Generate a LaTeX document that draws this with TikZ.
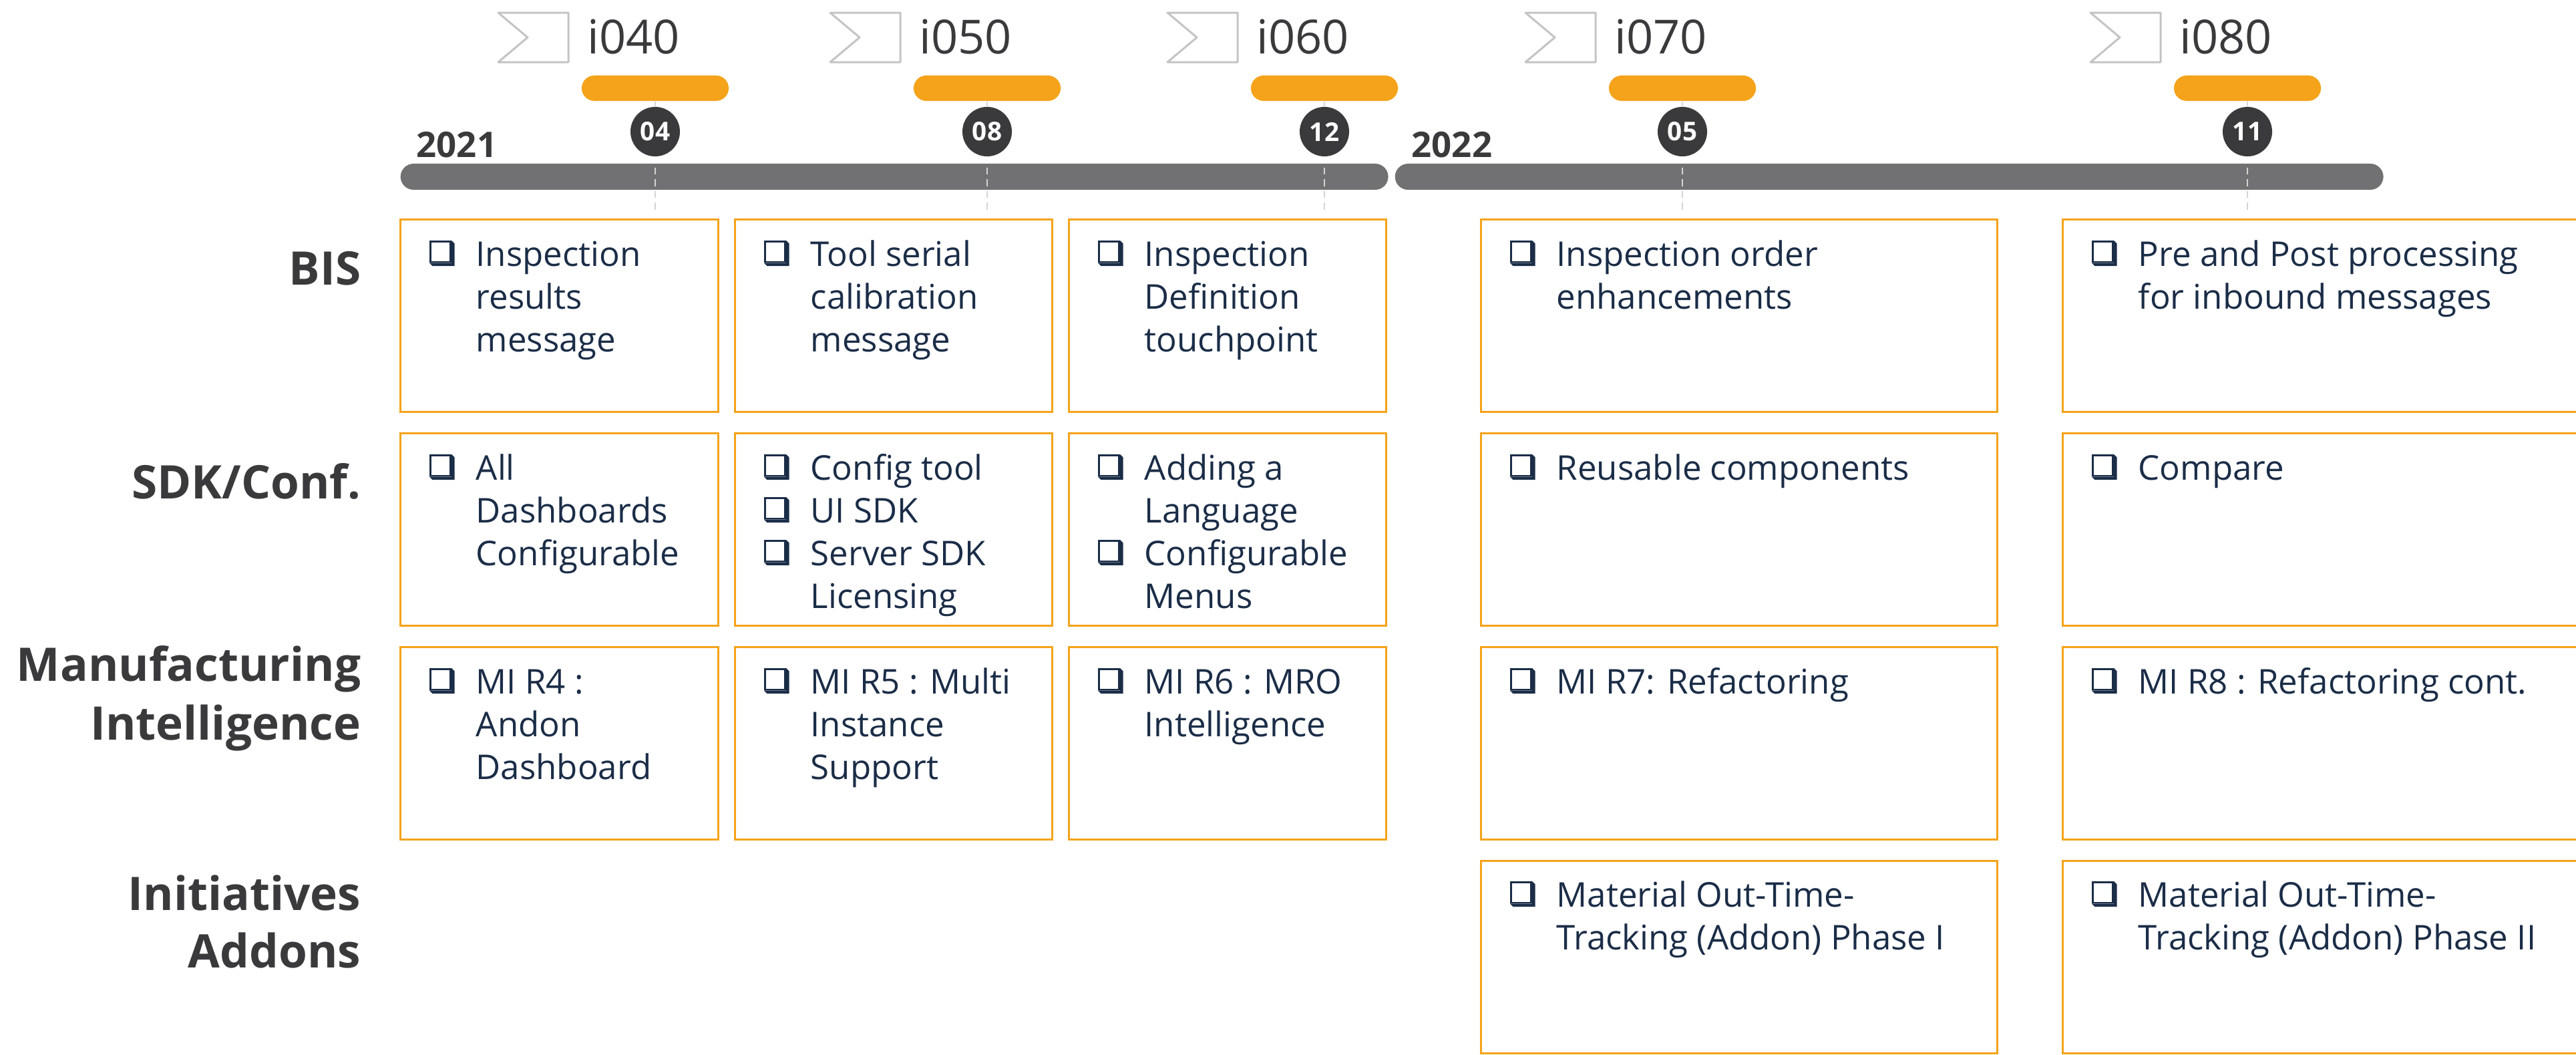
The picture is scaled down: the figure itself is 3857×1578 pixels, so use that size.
\documentclass[tikz,border=0pt]{standalone}
\usepackage{fontspec}
\setmainfont{Open Sans}
\definecolor{orng}{HTML}{F5A31A}
\definecolor{bgray}{HTML}{717173}
\definecolor{dgray}{HTML}{3A3A3C}
\definecolor{navy}{HTML}{1B2D47}
\definecolor{fgray}{HTML}{C4C4C4}
\definecolor{lgray}{HTML}{D4D4D4}
\newcommand{\cbx}{\makebox[0.70cm][l]{\tikz[baseline=0pt,x=1pt,y=1pt]{%
  \fill[navy] (0,1.3) -- (1.3,0) -- (10.8,0) -- (10.8,9.5) -- (9.5,10.8) -- (9.5,1.3) -- cycle;
  \draw[navy,line width=0.8pt] (0.4,1.7) rectangle (9.1,10.4);}}}
\newcommand{\lst}[1]{\begin{tabular}[t]{@{}l@{}l@{}}#1\end{tabular}}
\tikzset{
  cell/.style={draw=orng, line width=0.85pt, rectangle, inner sep=0pt, anchor=north west, minimum height=2.88cm},
  txt/.style={anchor=base west, inner sep=0pt, text=navy, font=\fontsize{14.5}{18.2}\selectfont},
  rowlab/.style={anchor=base east, inner sep=0pt, text=dgray, font=\fontsize{19.7}{24}\selectfont\bfseries},
  pill/.style={fill=orng, rounded corners=0.19cm, minimum width=2.2cm, minimum height=0.38cm, inner sep=0pt},
  num/.style={circle, fill=dgray, minimum size=0.74cm, inner sep=0pt, text=white, font=\fontsize{11}{13}\selectfont\bfseries},
  ilab/.style={anchor=base west, inner sep=0pt, text=dgray, font=\fontsize{20}{24}\selectfont},
  year/.style={anchor=base west, inner sep=0pt, text=dgray, font=\fontsize{15}{18}\selectfont\bfseries},
  dline/.style={draw=lgray, line width=0.45pt, dash pattern=on 3pt off 2pt},
  flagline/.style={draw=fgray, line width=0.85pt, line join=round},
  barst/.style={fill=bgray, rounded corners=0.195cm, minimum height=0.39cm, inner sep=0pt, anchor=west}
}
\begin{document}
\begin{tikzpicture}[x=0.01cm,y=-0.01cm]
\useasboundingbox (0,0) rectangle (3857,1578);
\clip (0,0) rectangle (3857,1578);
\fill[white] (0,0) rectangle (3857,1578);

% timeline bars
\node[barst, minimum width=14.78cm] (bar1) at (599,264.5) {};
\node[barst, minimum width=14.79cm] (bar2) at (2088,264.5) {};
\node[year] (y2021) at (623,235) {2021};
\node[year] (y2022) at (2113,235) {2022};

% milestones
\foreach \cx/\n/\lab [count=\k] in {981/04/i040, 1478/08/i050, 1983/12/i060, 2519/05/i070, 3365/11/i080} {
  \draw[flagline] ({\cx-235},19) -- ({\cx-130},19) -- ({\cx-130},93) -- ({\cx-235},93) -- ({\cx-191},56) -- cycle;
  \node[ilab] (l\k) at ({\cx-102},80) {\lab};
  \node[pill] (p\k) at (\cx,132) {};
  \node[num] (c\k) at (\cx,197) {\n};
  \draw[dline] (p\k.south) -- (c\k.north);
  \draw[dline] ([yshift=-0.16cm]c\k.south) -- ([yshift=-0.84cm]c\k.south);
}

% row labels
\node[rowlab] (rBIS) at (541,426) {BIS};
\node[rowlab] (rSDK) at (541,746) {SDK/Conf.};
\node[rowlab] (rMI1) at (541,1019) {Manufacturing};
\node[rowlab] (rMI2) at (541,1107) {Intelligence};
\node[rowlab] (rIA1) at (541,1362) {Initiatives};
\node[rowlab] (rIA2) at (541,1448) {Addons};

% boxes
\node[cell, minimum width=4.76cm] (b11) at (598,327) {};
\node[cell, minimum width=4.75cm] (b12) at (1099,327) {};
\node[cell, minimum width=4.75cm] (b13) at (1599,327) {};
\node[cell, minimum width=7.73cm] (b14) at (2216,327) {};
\node[cell, minimum width=9cm] (b15) at (3087,327) {};

\node[cell, minimum width=4.76cm] (b21) at (598,647) {};
\node[cell, minimum width=4.75cm] (b22) at (1099,647) {};
\node[cell, minimum width=4.75cm] (b23) at (1599,647) {};
\node[cell, minimum width=7.73cm] (b24) at (2216,647) {};
\node[cell, minimum width=9cm] (b25) at (3087,647) {};

\node[cell, minimum width=4.76cm] (b31) at (598,967) {};
\node[cell, minimum width=4.75cm] (b32) at (1099,967) {};
\node[cell, minimum width=4.75cm] (b33) at (1599,967) {};
\node[cell, minimum width=7.73cm] (b34) at (2216,967) {};
\node[cell, minimum width=9cm] (b35) at (3087,967) {};

\node[cell, minimum width=7.73cm] (b44) at (2216,1287) {};
\node[cell, minimum width=9cm] (b45) at (3087,1287) {};

% box texts
\node[txt] (t11) at (642,398) {\lst{\cbx & Inspection\\ & results\\ & message}};
\node[txt] (t12) at (1143,398) {\lst{\cbx & Tool serial\\ & calibration\\ & message}};
\node[txt] (t13) at (1643,398) {\lst{\cbx & Inspection\\ & Definition\\ & touchpoint}};
\node[txt] (t14) at (2260,398) {\lst{\cbx & Inspection order\\ & enhancements}};
\node[txt] (t15) at (3131,398) {\lst{\cbx & Pre and Post processing\\ & for inbound messages}};

\node[txt] (t21) at (642,718) {\lst{\cbx & All\\ & Dashboards\\ & Configurable}};
\node[txt] (t22) at (1143,718) {\lst{\cbx & Config tool\\ \cbx & UI SDK\\ \cbx & Server SDK\\ & Licensing}};
\node[txt] (t23) at (1643,718) {\lst{\cbx & Adding a\\ & Language\\ \cbx & Configurable\\ & Menus}};
\node[txt] (t24) at (2260,718) {\lst{\cbx & Reusable components}};
\node[txt] (t25) at (3131,718) {\lst{\cbx & Compare}};

\node[txt] (t31) at (642,1038) {\lst{\cbx & MI R4 :\\ & Andon\\ & Dashboard}};
\node[txt] (t32) at (1143,1038) {\lst{\cbx & MI R5 : Multi\\ & Instance\\ & Support}};
\node[txt] (t33) at (1643,1038) {\lst{\cbx & MI R6 : MRO\\ & Intelligence}};
\node[txt] (t34) at (2260,1038) {\lst{\cbx & MI R7: Refactoring}};
\node[txt] (t35) at (3131,1038) {\lst{\cbx & MI R8 : Refactoring cont.}};

\node[txt] (t44) at (2260,1357) {\lst{\cbx & Material Out-Time-\\ & Tracking (Addon) Phase I}};
\node[txt] (t45) at (3131,1357) {\lst{\cbx & Material Out-Time-\\ & Tracking (Addon) Phase II}};
\end{tikzpicture}
\end{document}
